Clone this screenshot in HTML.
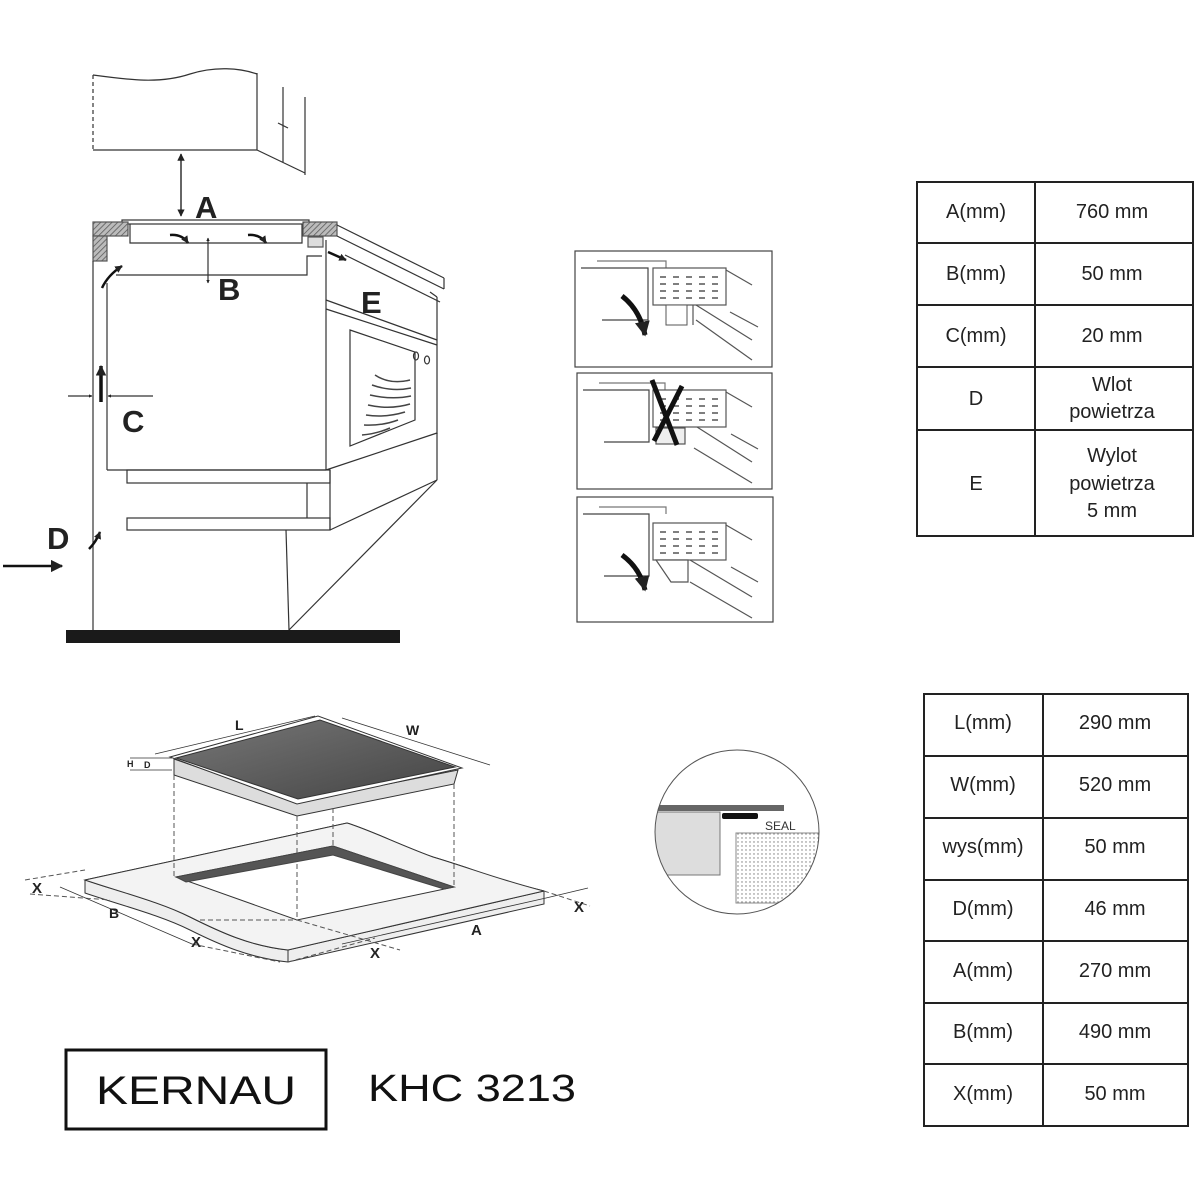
<!DOCTYPE html>
<html><head><meta charset="utf-8"><style>
html,body{margin:0;padding:0;background:#fff;}
svg{display:block;}
text{font-family:"Liberation Sans",sans-serif;}
</style></head><body>
<svg width="1200" height="1200" viewBox="0 0 1200 1200" xmlns="http://www.w3.org/2000/svg">
<defs>
<pattern id="hatch" width="4" height="4" patternUnits="userSpaceOnUse" patternTransform="rotate(45)"><rect width="4" height="4" fill="#bbb"/><line x1="0" y1="0" x2="0" y2="4" stroke="#555" stroke-width="1.5"/></pattern>
<pattern id="dots" width="4" height="4" patternUnits="userSpaceOnUse"><rect width="4" height="4" fill="#fff"/><circle cx="2" cy="2" r="0.7" fill="#777"/></pattern>
<linearGradient id="hobg" x1="0" y1="0" x2="1" y2="1"><stop offset="0" stop-color="#777"/><stop offset="1" stop-color="#444"/></linearGradient>
<marker id="ar" viewBox="0 0 10 10" refX="9" refY="5" markerWidth="5" markerHeight="5" orient="auto-start-reverse"><path d="M0,0 L10,5 L0,10 z" fill="#222"/></marker>
<marker id="ars" viewBox="0 0 10 10" refX="9" refY="5" markerWidth="3" markerHeight="3" orient="auto-start-reverse"><path d="M0,0 L10,5 L0,10 z" fill="#222"/></marker>
</defs>

<!-- ===== Upper-left installation diagram ===== -->
<g stroke="#333" stroke-width="1.2" fill="none">
<!-- wall cabinet -->
<line x1="93" y1="75" x2="93" y2="150" stroke-dasharray="4,3"/>
<path d="M93,75 C130,80 160,84 190,74 C215,66 240,68 257,74"/>
<line x1="257" y1="73" x2="257" y2="150"/>
<line x1="93" y1="150" x2="257" y2="150"/>
<line x1="257" y1="150" x2="305" y2="173"/>
<line x1="283" y1="87" x2="283" y2="162"/>
<line x1="278" y1="123" x2="288" y2="128"/>
<line x1="305" y1="97" x2="305" y2="175"/>
<!-- A arrow -->
<line x1="181" y1="154" x2="181" y2="216" stroke-width="1.5" marker-start="url(#ar)" marker-end="url(#ar)"/>
<!-- countertop / hob -->
<rect x="122" y="220" width="187" height="4" fill="#fff"/>
<path d="M130,224 V243 H302 V224"/>
<rect x="93" y="222" width="35" height="14" fill="url(#hatch)" stroke="#555"/>
<rect x="93" y="236" width="14" height="25" fill="url(#hatch)" stroke="#555"/>
<rect x="303" y="222" width="34" height="14" fill="url(#hatch)" stroke="#555"/>
<rect x="308" y="237" width="15" height="10" fill="#ddd" stroke="#555"/>
<!-- hob arrows -->
<path d="M170,235 Q182,234 188,243" stroke="#111" stroke-width="2.5" marker-end="url(#ars)"/>
<path d="M248,235 Q260,234 266,243" stroke="#111" stroke-width="2.5" marker-end="url(#ars)"/>
<!-- B -->
<line x1="208" y1="238" x2="208" y2="283" marker-start="url(#ars)" marker-end="url(#ars)"/>
<!-- cabinet -->
<path d="M116,275 H307 V256 H322"/>
<path d="M328,252 L346,260" stroke="#111" stroke-width="2.5" marker-end="url(#ars)"/>
<line x1="107" y1="283" x2="107" y2="470"/>
<line x1="93" y1="261" x2="93" y2="630"/>
<line x1="107" y1="470" x2="326" y2="470"/>
<path d="M102,288 Q108,275 122,266" stroke="#111" stroke-width="2.5" marker-end="url(#ars)"/>
<!-- right side counter/oven -->
<line x1="337" y1="225" x2="444" y2="278"/>
<line x1="326" y1="240" x2="326" y2="470"/>
<line x1="337" y1="236" x2="444" y2="289"/>
<line x1="444" y1="278" x2="444" y2="289"/>
<line x1="430" y1="292" x2="437" y2="297"/>
<line x1="345" y1="255" x2="440" y2="302"/>
<line x1="326" y1="300" x2="437" y2="340"/>
<line x1="326" y1="309" x2="437" y2="345"/>
<line x1="437" y1="297" x2="437" y2="434"/>
<line x1="326" y1="470" x2="437" y2="433"/>
<ellipse cx="416" cy="356" rx="2.5" ry="4"/><ellipse cx="427" cy="360" rx="2.5" ry="4"/>
<polygon points="350,330 415,352 415,420 350,446"/>
<path d="M375,375 Q390,385 410,380 M372,385 Q392,392 411,388 M370,395 Q392,400 411,396 M368,405 Q390,410 410,404 M366,415 Q385,418 405,412 M364,425 Q382,426 398,420 M362,435 Q376,434 390,428" stroke="#444" stroke-width="1.5"/>
<!-- plinth -->
<rect x="127" y="470" width="203" height="13"/>
<rect x="127" y="518" width="203" height="12"/>
<line x1="307" y1="483" x2="307" y2="518"/>
<line x1="330" y1="470" x2="330" y2="530"/>
<line x1="330" y1="530" x2="437" y2="480"/>
<line x1="437" y1="433" x2="437" y2="480"/>
<line x1="437" y1="480" x2="289" y2="630"/>
<line x1="286" y1="530" x2="289" y2="630"/>
<!-- C -->
<line x1="68" y1="396" x2="92" y2="396" marker-end="url(#ars)"/>
<line x1="153" y1="396" x2="108" y2="396" marker-end="url(#ars)"/>
<line x1="101" y1="402" x2="101" y2="366" stroke="#111" stroke-width="3.5" marker-end="url(#ars)"/>
<!-- D -->
<line x1="3" y1="566" x2="62" y2="566" stroke="#111" stroke-width="2.5" marker-end="url(#ar)"/>
<path d="M89,549 Q96,542 100,532" stroke="#111" stroke-width="2.5" marker-end="url(#ars)"/>
</g>
<rect x="66" y="630" width="334" height="13" fill="#1a1a1a"/>
<g font-weight="bold" font-size="31" fill="#222">
<text x="195" y="218">A</text>
<text x="218" y="300">B</text>
<text x="361" y="313">E</text>
<text x="122" y="432">C</text>
<text x="47" y="549">D</text>
</g>

<!-- ===== Middle panels ===== -->
<g stroke="#444" stroke-width="1.2" fill="none">
<rect x="575" y="251" width="197" height="116"/>
<rect x="577" y="373" width="195" height="116"/>
<rect x="577" y="497" width="196" height="125"/>
</g>
<g id="p1" stroke="#555" stroke-width="1.2" fill="none">
<path d="M597,261 H666 V268" stroke="#777"/>
<path d="M581,268 H648 V320 H602" stroke="#444"/>
<rect x="653" y="268" width="73" height="37" fill="#fff"/>
<path d="M660,277 h6 m7,0 h6 m7,0 h6 m7,0 h6 m7,0 h6 M660,284 h6 m7,0 h6 m7,0 h6 m7,0 h6 m7,0 h6 M660,291 h6 m7,0 h6 m7,0 h6 m7,0 h6 m7,0 h6 M660,298 h6 m7,0 h6 m7,0 h6 m7,0 h6 m7,0 h6" stroke="#333"/>
<line x1="726" y1="270" x2="752" y2="285"/>
<line x1="730" y1="312" x2="758" y2="327"/>
<line x1="696" y1="305" x2="752" y2="340"/>
<line x1="696" y1="320" x2="752" y2="360"/>
<line x1="693" y1="305" x2="693" y2="325"/>
</g>
<rect x="666" y="305" width="21" height="20" fill="#fff" stroke="#555"/>
<path d="M622,296 Q640,310 645,335" stroke="#111" stroke-width="5" fill="none" marker-end="url(#ars)"/>
<g stroke="#555" stroke-width="1.2" fill="none">
<path d="M599,383 H665 V390" stroke="#777"/>
<path d="M583,390 H649 V442 H604" stroke="#444"/>
<rect x="653" y="390" width="73" height="37" fill="#fff"/>
<path d="M660,399 h6 m7,0 h6 m7,0 h6 m7,0 h6 m7,0 h6 M660,406 h6 m7,0 h6 m7,0 h6 m7,0 h6 m7,0 h6 M660,413 h6 m7,0 h6 m7,0 h6 m7,0 h6 m7,0 h6 M660,420 h6 m7,0 h6 m7,0 h6 m7,0 h6 m7,0 h6" stroke="#333"/>
<line x1="726" y1="392" x2="752" y2="407"/>
<line x1="731" y1="434" x2="758" y2="449"/>
<line x1="697" y1="427" x2="752" y2="462"/>
<line x1="694" y1="448" x2="752" y2="483"/>
<rect x="656" y="428" width="29" height="16" fill="#eee"/>
</g>
<g stroke="#111" stroke-width="5"><line x1="652" y1="380" x2="677" y2="445"/><line x1="682" y1="386" x2="654" y2="441"/></g>
<g stroke="#555" stroke-width="1.2" fill="none">
<path d="M599,507 H666 V514" stroke="#777"/>
<path d="M583,514 H649 V576 H604" stroke="#444"/>
<rect x="653" y="523" width="73" height="37" fill="#fff"/>
<path d="M660,532 h6 m7,0 h6 m7,0 h6 m7,0 h6 m7,0 h6 M660,539 h6 m7,0 h6 m7,0 h6 m7,0 h6 m7,0 h6 M660,546 h6 m7,0 h6 m7,0 h6 m7,0 h6 m7,0 h6 M660,553 h6 m7,0 h6 m7,0 h6 m7,0 h6 m7,0 h6" stroke="#333"/>
<polygon points="656,560 688,560 688,582 671,582" fill="#fff"/>
<line x1="726" y1="525" x2="752" y2="540"/>
<line x1="731" y1="567" x2="758" y2="582"/>
<line x1="690" y1="560" x2="752" y2="597"/>
<line x1="690" y1="582" x2="752" y2="618"/>
</g>
<path d="M622,555 Q640,568 645,590" stroke="#111" stroke-width="5" fill="none" marker-end="url(#ars)"/>

<!-- ===== Hob cutout diagram ===== -->
<g stroke="#333" stroke-width="1" fill="none">
<!-- counter -->
<path d="M85,880 L347,823 C370,830 400,845 433,857 C470,868 500,880 544,891 V904 L288,962 C250,958 220,945 190,930 C160,915 120,905 85,893 Z" fill="#eee"/>
<path d="M85,880 C120,892 160,902 190,917 C220,932 250,946 288,950 L544,891" fill="none"/>
<polygon points="85,880 347,823 433,857 544,891 288,950" fill="#f2f2f2" stroke="none"/>
<path d="M85,880 L347,823 C370,830 400,845 433,857 C470,868 500,880 544,891 L288,950 C250,946 220,932 190,917 C160,902 120,892 85,880 Z" fill="#f3f3f3"/>
<line x1="288" y1="950" x2="288" y2="962"/>
<!-- opening -->
<polygon points="176,877 333,846 454,887 297,920" fill="#fff"/>
<polygon points="176,877 333,846 454,887 444,889 333,855 186,882" fill="#555" stroke="#444"/>
<!-- hob -->
<polygon points="174,759 174,775 297,816 454,784 458,770 297,802" fill="#ddd"/>
<polygon points="170,757 318,716 462,768 297,804" fill="#fff"/>
<polygon points="176,758 320,720 455,767 298,799" fill="url(#hobg)" stroke="#333"/>
<!-- dashed verticals -->
<g stroke-dasharray="5,3" stroke="#555">
<line x1="174" y1="775" x2="174" y2="877"/>
<line x1="297" y1="816" x2="297" y2="920"/>
<line x1="333" y1="808" x2="333" y2="846"/>
<line x1="454" y1="784" x2="454" y2="887"/>
<line x1="25" y1="880" x2="85" y2="870"/>
<line x1="30" y1="894" x2="110" y2="900"/>
<line x1="192" y1="944" x2="280" y2="962"/>
<line x1="288" y1="962" x2="375" y2="938"/>
<line x1="544" y1="891" x2="590" y2="906"/>
<line x1="200" y1="920" x2="297" y2="920"/>
<line x1="297" y1="920" x2="400" y2="950"/>
</g>
<!-- dim lines -->
<line x1="155" y1="754" x2="315" y2="716" stroke-width="0.8"/>
<line x1="342" y1="718" x2="490" y2="765" stroke-width="0.8"/>
<line x1="130" y1="758" x2="172" y2="758" stroke-width="0.8"/>
<line x1="130" y1="770" x2="172" y2="770" stroke-width="0.8"/>
<line x1="60" y1="887" x2="192" y2="944" stroke-width="0.8"/>
<line x1="342" y1="944" x2="546" y2="898" stroke-width="0.8"/>
<line x1="546" y1="898" x2="588" y2="888" stroke-width="0.8"/>
</g>
<g font-family="Liberation Sans" font-weight="bold" fill="#222">
<text x="235" y="730" font-size="14">L</text>
<text x="406" y="735" font-size="14">W</text>
<text x="127" y="767" font-size="9">H</text>
<text x="144" y="768" font-size="9">D</text>
<text x="32" y="893" font-size="15">X</text>
<text x="109" y="918" font-size="14">B</text>
<text x="191" y="947" font-size="15">X</text>
<text x="370" y="958" font-size="15">X</text>
<text x="471" y="935" font-size="15">A</text>
<text x="574" y="912" font-size="15">X</text>
</g>

<!-- seal detail -->
<clipPath id="cc"><circle cx="737" cy="832" r="82"/></clipPath>
<g clip-path="url(#cc)">
<rect x="640" y="745" width="200" height="180" fill="#fff"/>
<rect x="650" y="805" width="134" height="6" fill="#666"/>
<rect x="650" y="812" width="70" height="63" fill="#ddd" stroke="#777"/>
<rect x="722" y="813" width="36" height="6" rx="2" fill="#111"/>
<rect x="736" y="833" width="90" height="70" fill="url(#dots)" stroke="#888"/>
</g>
<circle cx="737" cy="832" r="82" fill="none" stroke="#555" stroke-width="1"/>
<text x="765" y="830" font-size="12" fill="#333">SEAL</text>

<!-- ===== Tables ===== -->
<g stroke="#222" stroke-width="2" fill="none">
<rect x="917" y="182" width="276" height="354"/>
<line x1="1035" y1="182" x2="1035" y2="536"/>
<line x1="917" y1="243" x2="1193" y2="243"/>
<line x1="917" y1="305" x2="1193" y2="305"/>
<line x1="917" y1="367" x2="1193" y2="367"/>
<line x1="917" y1="430" x2="1193" y2="430"/>
<rect x="924" y="694" width="264" height="432"/>
<line x1="1043" y1="694" x2="1043" y2="1126"/>
<line x1="924" y1="756" x2="1188" y2="756"/>
<line x1="924" y1="818" x2="1188" y2="818"/>
<line x1="924" y1="880" x2="1188" y2="880"/>
<line x1="924" y1="941" x2="1188" y2="941"/>
<line x1="924" y1="1003" x2="1188" y2="1003"/>
<line x1="924" y1="1064" x2="1188" y2="1064"/>
</g>
<g font-size="20" fill="#222" text-anchor="middle">
<text x="976" y="218">A(mm)</text><text x="1112" y="218">760 mm</text>
<text x="976" y="280">B(mm)</text><text x="1112" y="280">50 mm</text>
<text x="976" y="342">C(mm)</text><text x="1112" y="342">20 mm</text>
<text x="976" y="405">D</text><text x="1112" y="391">Wlot</text><text x="1112" y="418">powietrza</text>
<text x="976" y="490">E</text><text x="1112" y="462">Wylot</text><text x="1112" y="490">powietrza</text><text x="1112" y="517">5 mm</text>
<text x="983" y="729">L(mm)</text><text x="1115" y="729">290 mm</text>
<text x="983" y="791">W(mm)</text><text x="1115" y="791">520 mm</text>
<text x="983" y="853">wys(mm)</text><text x="1115" y="853">50 mm</text>
<text x="983" y="915">D(mm)</text><text x="1115" y="915">46 mm</text>
<text x="983" y="977">A(mm)</text><text x="1115" y="977">270 mm</text>
<text x="983" y="1038">B(mm)</text><text x="1115" y="1038">490 mm</text>
<text x="983" y="1100">X(mm)</text><text x="1115" y="1100">50 mm</text>
</g>

<!-- ===== Logo ===== -->
<rect x="66" y="1050" width="260" height="79" fill="none" stroke="#111" stroke-width="3"/>
<text x="196" y="1104" font-size="40" fill="#111" text-anchor="middle" textLength="200" lengthAdjust="spacingAndGlyphs">KERNAU</text>
<text x="368" y="1101" font-size="38" fill="#111" textLength="208" lengthAdjust="spacingAndGlyphs">KHC 3213</text>
</svg>
</body></html>
